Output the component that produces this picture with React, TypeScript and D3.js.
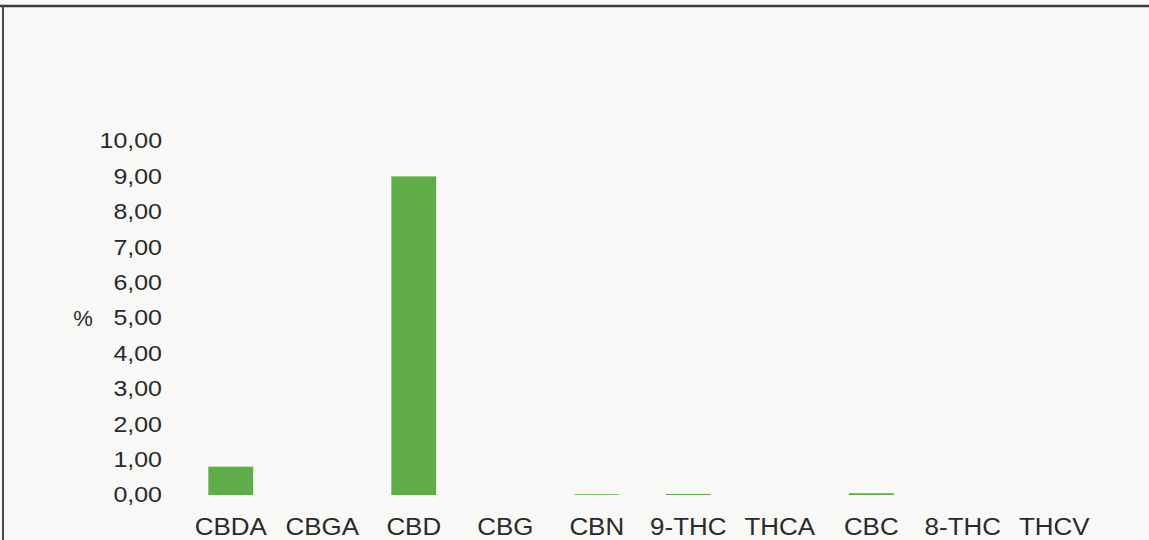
import * as d3 from "d3";
import { useEffect, useRef } from "react";

const categories = ["CBDA", "CBGA", "CBD", "CBG", "CBN", "9-THC", "THCA", "CBC", "8-THC", "THCV"];
const values = [0.8, 0, 9.0, 0, 0.02, 0.03, 0, 0.05, 0, 0];
const yTicks = [0, 1, 2, 3, 4, 5, 6, 7, 8, 9, 10];

const App: React.FC = () => {
  const ref = useRef<HTMLDivElement | null>(null);

  useEffect(() => {
    const width = 1149;
    const height = 540;

    if (ref.current) {
      d3.select(ref.current).selectAll("*").remove();

      const svg = d3
        .select(ref.current)
        .append("svg")
        .attr("width", width)
        .attr("height", height)
        .style("position", "absolute")
        .style("left", "0px")
        .style("top", "0px")
        .style("font-family", "'Liberation Sans', Arial, sans-serif");

      // scanned paper background
      svg.append("rect").attr("width", width).attr("height", height).attr("fill", "#f8f8f6");

      // frame lines of the scanned page
      svg
        .append("line")
        .attr("x1", 0)
        .attr("x2", width)
        .attr("y1", 6)
        .attr("y2", 6)
        .attr("stroke", "#3a3a3a")
        .attr("stroke-width", 2.5);
      svg
        .append("line")
        .attr("x1", 3)
        .attr("x2", 3)
        .attr("y1", 6)
        .attr("y2", height)
        .attr("stroke", "#4a4a4a")
        .attr("stroke-width", 2);

      const x = d3.scaleBand<string>().domain(categories).range([185, 1100]).paddingInner(0.51).paddingOuter(0.255);

      const y = d3.scaleLinear().domain([0, 10]).range([495, 141]);

      // y axis labels
      const yAxis = svg
        .append("g")
        .attr("transform", "translate(162,0)")
        .call(
          d3
            .axisLeft(y)
            .tickValues(yTicks)
            .tickSize(0)
            .tickPadding(0)
            .tickFormat((d) => (d as number).toFixed(2).replace(".", ","))
        );
      yAxis.select(".domain").remove();
      yAxis
        .selectAll("text")
        .attr("fill", "#2a2a2a")
        .attr("font-size", 21.5)
        .attr("font-family", "'Liberation Sans', Arial, sans-serif")
        .attr("transform", "scale(1.16,1)");

      svg
        .append("text")
        .attr("x", 83)
        .attr("y", y(5))
        .attr("dy", "0.35em")
        .attr("text-anchor", "middle")
        .attr("font-size", 22)
        .attr("fill", "#2a2a2a")
        .text("%");

      // bars
      svg
        .append("g")
        .selectAll("rect")
        .data(categories)
        .join("rect")
        .attr("x", (d) => x(d) ?? 0)
        .attr("width", x.bandwidth())
        .attr("y", (d, i) => y(values[i]))
        .attr("height", (d, i) => Math.max(0, y(0) - y(values[i])))
        .attr("fill", "#60ac48");

      // category labels
      const xAxis = svg
        .append("g")
        .attr("transform", "translate(0,535)")
        .call(d3.axisBottom(x).tickSize(0).tickPadding(0));
      xAxis.select(".domain").remove();
      xAxis
        .selectAll("text")
        .attr("dy", 0)
        .attr("fill", "#2a2a2a")
        .attr("font-size", 24)
        .attr("font-family", "'Liberation Sans', Arial, sans-serif")
        .attr("transform", "scale(1.08,1)");
    }
  }, []);

  return <div ref={ref} />;
};

export default App;
